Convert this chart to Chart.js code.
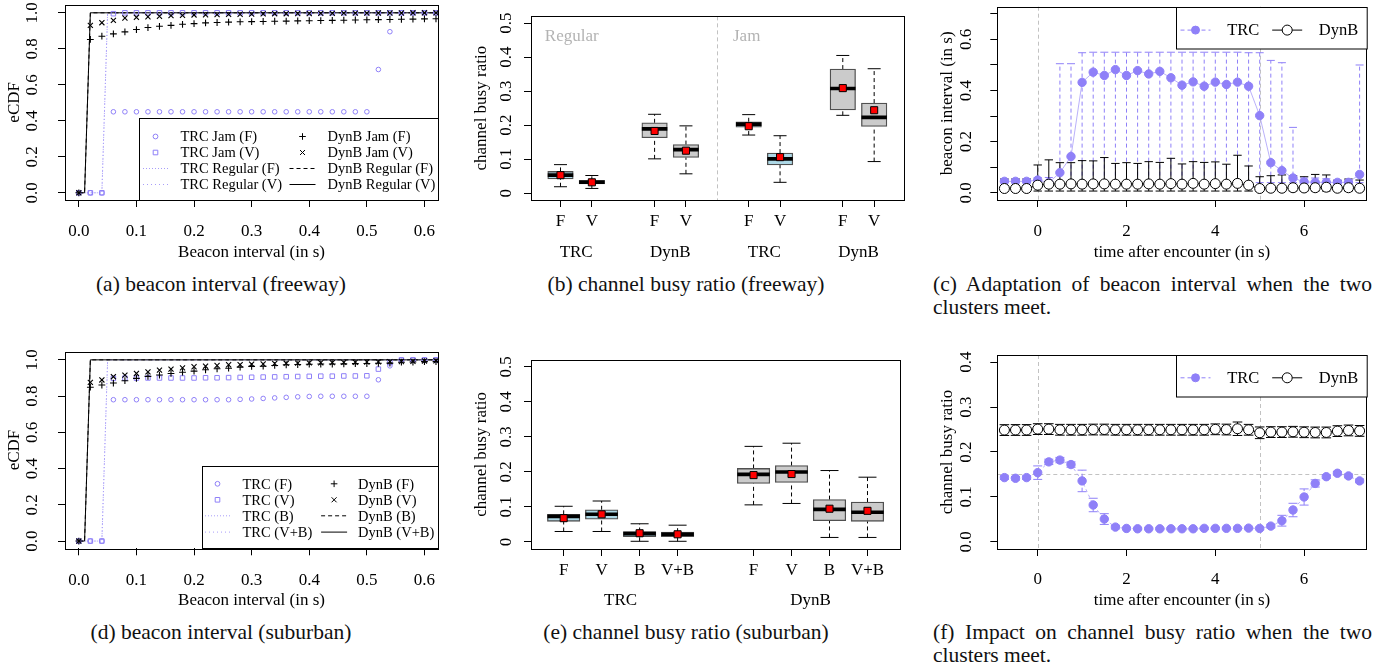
<!DOCTYPE html>
<html>
<head>
<meta charset="utf-8">
<title>beacon interval / channel busy ratio</title>
<script src="https://cdn.jsdelivr.net/npm/chart.js@4.4.1/dist/chart.umd.min.js"></script>
<style>
  html, body { margin: 0; padding: 0; background: #fff; }
  body { position: relative; width: 1400px; height: 670px; overflow: hidden; font-family: 'Liberation Serif', 'Times New Roman', serif; color: #111; }
  canvas { position: absolute; }
  .cap { position: absolute; font-size: 21.5px; line-height: 23px; white-space: nowrap; text-align: center; }
  .cap.wide { white-space: normal; text-align: justify; width: 439px; }
</style>
</head>
<body>
<canvas id="chartA" width="460" height="270" style="left:0;top:0"></canvas>
<canvas id="chartB" width="460" height="270" style="left:460px;top:0"></canvas>
<canvas id="chartC" width="480" height="270" style="left:920px;top:0"></canvas>
<canvas id="chartD" width="460" height="278" style="left:0;top:340px"></canvas>
<canvas id="chartE" width="460" height="278" style="left:460px;top:340px"></canvas>
<canvas id="chartF" width="480" height="278" style="left:920px;top:340px"></canvas>

<div class="cap" style="left:0;width:442px;top:273px">(a) beacon interval (freeway)</div>
<div class="cap" style="left:486px;width:400px;top:273px">(b) channel busy ratio (freeway)</div>
<div class="cap wide" style="left:933px;top:273px">(c) Adaptation of beacon interval when the two clusters meet.</div>
<div class="cap" style="left:0;width:442px;top:621px">(d) beacon interval (suburban)</div>
<div class="cap" style="left:486px;width:400px;top:621px">(e) channel busy ratio (suburban)</div>
<div class="cap wide" style="left:933px;top:621px">(f) Impact on channel busy ratio when the two clusters meet.</div>

<script>
'use strict';

// ---- data: eCDF of the beacon interval ----
const ecdfX = [0, 0.02, 0.04, 0.06, 0.08, 0.10, 0.12, 0.14, 0.16, 0.18, 0.20, 0.22, 0.24, 0.26, 0.28, 0.30,
  0.32, 0.34, 0.36, 0.38, 0.40, 0.42, 0.44, 0.46, 0.48, 0.50, 0.52, 0.54, 0.56, 0.58, 0.60, 0.62];

// freeway (a)
const trcJamF = [0, 0, 0, 0.45, 0.45, 0.45, 0.45, 0.45, 0.45, 0.45, 0.45, 0.45, 0.45, 0.45, 0.45, 0.45,
  0.45, 0.45, 0.45, 0.45, 0.45, 0.45, 0.45, 0.45, 0.45, 0.45, 0.685, 0.895, 1, 1, 1, 1];
const trcJamV = [0, 0, 0, 0.995, 1, 1, 1, 1, 1, 1, 1, 1, 1, 1, 1, 1,
  1, 1, 1, 1, 1, 1, 1, 1, 1, 1, 1, 1, 1, 1, 1, 1];
const dynbJamF = [0, 0.852, 0.870, 0.883, 0.894, 0.907, 0.918, 0.925, 0.930, 0.936, 0.940, 0.944, 0.946, 0.948, 0.950, 0.951,
  0.952, 0.953, 0.954, 0.955, 0.956, 0.957, 0.958, 0.959, 0.960, 0.961, 0.962, 0.963, 0.964, 0.965, 0.966, 0.967];
const dynbJamV = [0, 0.930, 0.945, 0.958, 0.971, 0.975, 0.978, 0.981, 0.984, 0.986, 0.988, 0.989, 0.990, 0.991, 0.992, 0.993,
  0.994, 0.995, 0.995, 0.996, 0.996, 0.997, 0.997, 0.998, 0.998, 0.998, 0.999, 0.999, 0.999, 1, 1, 1];
const dynbStepX = [0, 0.01, 0.02, 0.63];
const dynbRegF = [0, 0, 1, 1];
const dynbRegV = [0, 0, 1, 1];
const trcStepX = [0, 0.04, 0.05, 0.63];
const trcRegF = [0, 0, 1, 1];
const trcRegV = [0, 0, 1, 1];

// suburban (d)
const trcSubF = [0, 0, 0, 0.78, 0.78, 0.78, 0.78, 0.78, 0.78, 0.78, 0.78, 0.78, 0.78, 0.78, 0.782, 0.784,
  0.787, 0.790, 0.793, 0.796, 0.798, 0.799, 0.799, 0.799, 0.799, 0.799, 0.89, 0.967, 1, 1, 1, 1];
const trcSubV = [0, 0, 0, 0.898, 0.899, 0.899, 0.900, 0.900, 0.900, 0.900, 0.900, 0.901, 0.901, 0.902, 0.903, 0.904,
  0.905, 0.906, 0.907, 0.908, 0.909, 0.910, 0.910, 0.911, 0.911, 0.912, 0.949, 0.985, 1, 1, 1, 1];
const dynbSubF = [0, 0.849, 0.861, 0.872, 0.885, 0.898, 0.909, 0.916, 0.925, 0.932, 0.938, 0.945, 0.951, 0.954, 0.960, 0.964,
  0.965, 0.969, 0.973, 0.974, 0.976, 0.977, 0.977, 0.978, 0.979, 0.980, 0.981, 0.982, 0.987, 0.988, 0.990, 0.990];
const dynbSubV = [0, 0.876, 0.889, 0.907, 0.916, 0.925, 0.934, 0.943, 0.949, 0.956, 0.962, 0.965, 0.969, 0.973, 0.974, 0.976,
  0.977, 0.980, 0.981, 0.982, 0.983, 0.984, 0.985, 0.986, 0.987, 0.988, 0.989, 0.990, 0.991, 0.992, 0.994, 0.995];
const trcSubB = [0, 0, 1, 1];
const trcSubVB = [0, 0, 1, 1];
const dynbSubB = [0, 0, 1, 1];
const dynbSubVB = [0, 0, 1, 1];

// ---- data: channel busy ratio boxplots ----
// (b) freeway: TRC reg F,V | DynB reg F,V | TRC jam F,V | DynB jam F,V
const fwyPos = [1, 2, 4, 5, 7, 8, 10, 11];
const fwyLabels = ['F', 'V', 'F', 'V', 'F', 'V', 'F', 'V'];
const fwyGroupPos = [1.5, 4.5, 7.5, 10.5];
const fwyGroups = ['TRC', 'DynB', 'TRC', 'DynB'];
const fwyLo = [0.019, 0.014, 0.101, 0.057, 0.171, 0.032, 0.229, 0.093];
const fwyQ1 = [0.042, 0.027, 0.163, 0.105, 0.194, 0.083, 0.245, 0.196];
const fwyMed = [0.053, 0.032, 0.189, 0.128, 0.203, 0.101, 0.308, 0.223];
const fwyQ3 = [0.064, 0.038, 0.207, 0.143, 0.210, 0.118, 0.365, 0.265];
const fwyHi = [0.084, 0.052, 0.232, 0.198, 0.231, 0.169, 0.405, 0.366];
const fwyMean = [0.053, 0.032, 0.183, 0.125, 0.197, 0.106, 0.309, 0.244];
const fwyKind = ['TRC', 'TRC', 'DynB', 'DynB', 'TRC', 'TRC', 'DynB', 'DynB'];

// (e) suburban
const subPos = [1, 2, 3, 4, 6, 7, 8, 9];
const subLabels = ['F', 'V', 'B', 'V+B', 'F', 'V', 'B', 'V+B'];
const subGroupPos = [2.5, 7.5];
const subGroups = ['TRC', 'DynB'];
const subLo = [0.030, 0.030, 0.002, 0.002, 0.106, 0.110, 0.013, 0.013];
const subQ1 = [0.059, 0.065, 0.015, 0.015, 0.167, 0.170, 0.061, 0.059];
const subMed = [0.073, 0.079, 0.024, 0.022, 0.193, 0.200, 0.093, 0.085];
const subQ3 = [0.079, 0.092, 0.030, 0.028, 0.210, 0.218, 0.121, 0.114];
const subHi = [0.102, 0.117, 0.052, 0.048, 0.273, 0.282, 0.204, 0.185];
const subMean = [0.068, 0.079, 0.025, 0.022, 0.191, 0.194, 0.095, 0.089];
const subKind = ['TRC', 'TRC', 'TRC', 'TRC', 'DynB', 'DynB', 'DynB', 'DynB'];

// ---- data: time after encounter ----
const timeX = [-0.75, -0.5, -0.25, 0, 0.25, 0.5, 0.75, 1, 1.25, 1.5, 1.75, 2, 2.25, 2.5, 2.75, 3, 3.25,
  3.5, 3.75, 4, 4.25, 4.5, 4.75, 5, 5.25, 5.5, 5.75, 6, 6.25, 6.5, 6.75, 7, 7.25];

// (c) beacon interval
const trcBI = [0.045, 0.045, 0.045, 0.05, 0.04, 0.079, 0.142, 0.432, 0.472, 0.459, 0.482, 0.459, 0.478, 0.465, 0.475, 0.45, 0.421,
  0.434, 0.417, 0.433, 0.424, 0.433, 0.417, 0.302, 0.118, 0.087, 0.058, 0.043, 0.041, 0.041, 0.041, 0.041, 0.072];
const trcBIHi = [0.054, 0.054, 0.054, 0.06, 0.06, 0.505, 0.505, 0.548, 0.55, 0.55, 0.55, 0.55, 0.55, 0.55, 0.55, 0.55, 0.55,
  0.55, 0.55, 0.55, 0.55, 0.55, 0.548, 0.548, 0.518, 0.509, 0.256, 0.058, 0.058, 0.055, 0.05, 0.05, 0.5];
const trcBILo = [0.04, 0.04, 0.04, 0.04, 0.04, 0.04, 0.04, 0.04, 0.04, 0.04, 0.04, 0.04, 0.04, 0.04, 0.04, 0.04, 0.04,
  0.04, 0.04, 0.04, 0.04, 0.04, 0.04, 0.04, 0.04, 0.04, 0.04, 0.04, 0.04, 0.04, 0.04, 0.04, 0.04];
const dynbBI = [0.017, 0.017, 0.017, 0.03, 0.034, 0.034, 0.035, 0.034, 0.035, 0.035, 0.034, 0.034, 0.034, 0.035, 0.034, 0.036, 0.034,
  0.037, 0.034, 0.036, 0.034, 0.037, 0.03, 0.017, 0.018, 0.018, 0.02, 0.019, 0.02, 0.022, 0.018, 0.02, 0.018];
const dynbBIHi = [0.054, 0.054, 0.054, 0.109, 0.129, 0.118, 0.118, 0.126, 0.125, 0.138, 0.115, 0.118, 0.115, 0.122, 0.119, 0.135, 0.113,
  0.122, 0.119, 0.121, 0.112, 0.147, 0.105, 0.063, 0.067, 0.07, 0.067, 0.063, 0.072, 0.07, 0.049, 0.054, 0.05];
const dynbBILo = [0.007, 0.007, 0.007, 0.007, 0.007, 0.007, 0.007, 0.007, 0.007, 0.007, 0.007, 0.007, 0.007, 0.007, 0.007, 0.007, 0.007,
  0.007, 0.007, 0.007, 0.007, 0.007, 0.007, 0.007, 0.007, 0.007, 0.007, 0.007, 0.007, 0.007, 0.007, 0.007, 0.007];

// (f) channel busy ratio
const trcCBR = [0.143, 0.1415, 0.143, 0.154, 0.178, 0.182, 0.172, 0.1356, 0.082, 0.0507, 0.0328, 0.0298, 0.029, 0.029, 0.029, 0.029, 0.029,
  0.029, 0.03, 0.03, 0.03, 0.03, 0.0305, 0.0298, 0.035, 0.047, 0.0708, 0.0998, 0.13, 0.145, 0.1527, 0.1467, 0.1356];
const trcCBRErr = [0.004, 0.004, 0.004, 0.015, 0.006, 0.006, 0.006, 0.024, 0.015, 0.012, 0.004, 0.002, 0.002, 0.002, 0.002, 0.002, 0.002,
  0.002, 0.002, 0.002, 0.002, 0.002, 0.002, 0.003, 0.004, 0.012, 0.015, 0.018, 0.008, 0.004, 0.004, 0.004, 0.004];
const dynbCBR = [0.2488, 0.249, 0.249, 0.251, 0.251, 0.2495, 0.2495, 0.2495, 0.25, 0.25, 0.2495, 0.2495, 0.2495, 0.2495, 0.2495, 0.2495, 0.2495,
  0.2495, 0.2495, 0.2505, 0.25, 0.2518, 0.2495, 0.2428, 0.2443, 0.2443, 0.245, 0.244, 0.2435, 0.2435, 0.2465, 0.248, 0.247];
const dynbCBRErr = [0.012, 0.012, 0.012, 0.012, 0.012, 0.012, 0.012, 0.012, 0.012, 0.012, 0.012, 0.012, 0.012, 0.012, 0.012, 0.012, 0.012,
  0.012, 0.012, 0.012, 0.012, 0.015, 0.012, 0.013, 0.012, 0.012, 0.012, 0.012, 0.012, 0.012, 0.012, 0.012, 0.012];

// ---- tick labels ----
const ecdfTicks = [0, 0.2, 0.4, 0.6, 0.8, 1.0];
const ecdfTickLabels = ['0.0', '0.2', '0.4', '0.6', '0.8', '1.0'];
const intervalTicks = [0, 0.1, 0.2, 0.3, 0.4, 0.5, 0.6];
const intervalTickLabels = ['0.0', '0.1', '0.2', '0.3', '0.4', '0.5', '0.6'];
const cbrTicks = [0, 0.1, 0.2, 0.3, 0.4, 0.5];
const cbrTickLabels = ['0', '0.1', '0.2', '0.3', '0.4', '0.5'];
const timeTicks = [0, 2, 4, 6];
const timeTickLabels = ['0', '2', '4', '6'];
const beaconTicks = [0, 0.1, 0.2, 0.3, 0.4, 0.5, 0.6, 0.7];
const beaconTickLabels = ['0.0', '', '0.2', '', '0.4', '', '0.6', ''];
const impactTicks = [0, 0.1, 0.2, 0.3, 0.4];
const impactTickLabels = ['0.0', '0.1', '0.2', '0.3', '0.4'];

// ---- styling ----
const serif = "'Liberation Serif', 'Times New Roman', serif";
const LAV = '#8f80f8';
const LAV_LINE = '#a89df9';
const LIGHTBLUE = '#add8e6';
const BOXGRAY = '#cbcbcb';
Chart.defaults.font.family = serif;
Chart.defaults.color = '#000';

const pts = (xs, ys) => xs.map((x, i) => ({ x, y: ys[i] }));

function yAxis(o) {
  return {
    type: 'linear', position: 'left', min: o.min, max: o.max,
    afterBuildTicks: s => { s.ticks = o.ticks.map(v => ({ value: v })); },
    afterFit: s => { s.width = o.width; s.paddingTop = 0; s.paddingBottom = 0; },
    ticks: {
      autoSkip: false, minRotation: 90, maxRotation: 90, crossAlign: 'center', padding: o.pad,
      color: '#000', font: { family: serif, size: 17 }, callback: (v, i) => o.labels[i]
    },
    grid: { drawOnChartArea: false, drawTicks: true, tickLength: 7, color: '#000', lineWidth: 1 },
    border: { display: false },
    title: { display: true, text: o.title, color: '#000', font: { family: serif, size: 17 }, padding: { top: o.tpad, bottom: 0 } }
  };
}

function xAxis(o) {
  return {
    type: 'linear', position: 'bottom', min: o.min, max: o.max, offset: false, weight: 0,
    afterBuildTicks: s => { s.ticks = o.ticks.map(v => ({ value: v })); },
    afterFit: s => { s.height = o.height; s.paddingLeft = 0; s.paddingRight = 0; },
    ticks: {
      autoSkip: false, maxRotation: 0, minRotation: 0, padding: o.pad,
      color: '#000', font: { family: serif, size: 17 }, callback: (v, i) => o.labels[i]
    },
    grid: { drawOnChartArea: false, drawTicks: true, tickLength: 7, color: '#000', lineWidth: 1, offset: false },
    border: { display: false },
    title: o.title
      ? { display: true, text: o.title, color: '#000', font: { family: serif, size: 17 }, padding: { top: 0, bottom: 6.8 } }
      : { display: false }
  };
}

function groupAxis(o) {
  return {
    type: 'linear', position: 'bottom', min: o.min, max: o.max, offset: false, weight: 1,
    afterBuildTicks: s => { s.ticks = o.ticks.map(v => ({ value: v })); },
    afterFit: s => { s.height = o.height; s.paddingLeft = 0; s.paddingRight = 0; },
    ticks: { autoSkip: false, maxRotation: 0, minRotation: 0, padding: o.pad, color: '#000',
      font: { family: serif, size: 17 }, callback: (v, i) => o.labels[i] },
    grid: { display: false, drawTicks: false, drawOnChartArea: false },
    border: { display: false }
  };
}

const framePlugin = {
  id: 'frame',
  afterDatasetsDraw(ch) {
    const a = ch.chartArea, c = ch.ctx;
    c.save();
    c.strokeStyle = '#000'; c.lineWidth = 1;
    c.strokeRect(Math.round(a.left) + 0.5, Math.round(a.top) + 0.5,
      Math.round(a.right - a.left), Math.round(a.bottom - a.top));
    c.restore();
  }
};

function refLines(vals, hvals) {
  return {
    id: 'refLines',
    beforeDatasetsDraw(ch) {
      const a = ch.chartArea, c = ch.ctx, sx = ch.scales.x, sy = ch.scales.y;
      c.save();
      c.strokeStyle = '#c2c2c2'; c.lineWidth = 1; c.setLineDash([4, 3]);
      vals.forEach(v => {
        const px = Math.round(sx.getPixelForValue(v)) + 0.5;
        c.beginPath(); c.moveTo(px, a.top); c.lineTo(px, a.bottom); c.stroke();
      });
      hvals.forEach(v => {
        const py = Math.round(sy.getPixelForValue(v)) + 0.5;
        c.beginPath(); c.moveTo(a.left, py); c.lineTo(a.right, py); c.stroke();
      });
      c.restore();
    }
  };
}

function drawSymbol(c, kind, x, y, r, color, fill) {
  c.save();
  c.strokeStyle = color; c.fillStyle = fill || color; c.lineWidth = 1;
  c.beginPath();
  if (kind === 'circle') {
    c.arc(x, y, r, 0, Math.PI * 2);
    if (fill) c.fill();
    c.stroke();
  } else if (kind === 'square') {
    c.rect(x - r, y - r, 2 * r, 2 * r); c.stroke();
  } else if (kind === 'plus') {
    c.moveTo(x - r, y); c.lineTo(x + r, y); c.moveTo(x, y - r); c.lineTo(x, y + r); c.stroke();
  } else if (kind === 'x') {
    c.moveTo(x - r, y - r); c.lineTo(x + r, y + r); c.moveTo(x - r, y + r); c.lineTo(x + r, y - r); c.stroke();
  }
  c.restore();
}

// R-style legend box, drawn in the corner of the plot region
function legendPlugin(L) {
  return {
    id: 'rLegend',
    afterDatasetsDraw(ch) {
      const a = ch.chartArea, c = ch.ctx;
      const x0 = Math.round(a.right - L.w) + 0.5;
      const y0 = Math.round(L.corner === 'bottom' ? a.bottom - L.h : a.top) + 0.5;
      c.save();
      c.fillStyle = '#fff'; c.fillRect(x0, y0, L.w, L.h);
      c.strokeStyle = '#000'; c.lineWidth = 1; c.strokeRect(x0, y0, L.w, L.h);
      c.font = L.font + 'px ' + serif; c.textBaseline = 'middle'; c.fillStyle = '#000';
      L.items.forEach(it => {
        const sx = x0 + it.sx, sy = y0 + it.y;
        if (it.line) {
          c.save();
          c.strokeStyle = it.line.color; c.lineWidth = it.line.width || 1; c.setLineDash(it.line.dash || []);
          c.beginPath(); c.moveTo(sx - it.line.len / 2, sy); c.lineTo(sx + it.line.len / 2, sy); c.stroke();
          c.restore();
        }
        if (it.sym) drawSymbol(c, it.sym.kind, sx, sy, it.sym.r, it.sym.color, it.sym.fill);
        c.fillStyle = '#000';
        c.fillText(it.label, x0 + it.tx, sy + 1);
      });
      c.restore();
    }
  };
}

function textPlugin(notes) {
  return {
    id: 'notes',
    afterDatasetsDraw(ch) {
      const c = ch.ctx, sx = ch.scales.x, sy = ch.scales.y;
      c.save();
      c.font = '17px ' + serif; c.fillStyle = '#b3b3b3'; c.textBaseline = 'middle'; c.textAlign = 'left';
      notes.forEach(n => c.fillText(n.text, sx.getPixelForValue(n.x), sy.getPixelForValue(n.y)));
      c.restore();
    }
  };
}

const lineDs = (data, color, dash, width, order) => ({
  data, showLine: true, borderColor: color, borderWidth: width, borderDash: dash,
  pointRadius: 0, pointHoverRadius: 0, fill: false, order
});
const ptDs = (data, style, r, color, fill, width, order) => ({
  data, showLine: false, pointStyle: style, pointRadius: r, pointHoverRadius: r,
  borderColor: color, pointBorderColor: color, backgroundColor: fill, pointBackgroundColor: fill,
  borderWidth: width, pointBorderWidth: width, order
});

function makeChart(id, pad, datasets, scales, plugins) {
  return new Chart(document.getElementById(id), {
    type: 'scatter',
    data: { datasets },
    options: {
      responsive: false, animation: false, events: [],
      layout: { padding: pad },
      plugins: { legend: { display: false }, tooltip: { enabled: false } },
      scales
    },
    plugins
  });
}

// ---- (a) / (d): eCDF panels ----
function ecdfChart(id, top, bottomH, series, legend) {
  const datasets = [
    lineDs(pts(trcStepX, series.trcLine1), LAV_LINE, [1, 2], 1, 9),
    lineDs(pts(trcStepX, series.trcLine2), LAV_LINE, [1, 3], 1, 9),
    lineDs(pts(dynbStepX, series.dynbLine1), '#000', [4, 3], 1, 8),
    lineDs(pts(dynbStepX, series.dynbLine2), '#000', [], 1, 8),
    ptDs(pts(ecdfX, series.trcPt1), 'circle', 2.3, LAV, 'rgba(0,0,0,0)', 1, 4),
    ptDs(pts(ecdfX, series.trcPt2), 'rect', 3.2, LAV, 'rgba(0,0,0,0)', 1, 4),
    ptDs(pts(ecdfX, series.dynbPt1), 'cross', 3.4, '#000', 'rgba(0,0,0,0)', 1.1, 3),
    ptDs(pts(ecdfX, series.dynbPt2), 'crossRot', 3.6, '#000', 'rgba(0,0,0,0)', 1.1, 3)
  ];
  const scales = {
    x: xAxis({ min: -0.024, max: 0.6235, ticks: intervalTicks, labels: intervalTickLabels, height: bottomH,
      pad: 14.6, title: 'Beacon interval (in s)' }),
    y: yAxis({ min: -0.04, max: 1.045, ticks: ecdfTicks, labels: ecdfTickLabels, width: 65, pad: 14.4,
      title: 'eCDF', tpad: 4.8 })
  };
  return makeChart(id, { left: 0, right: 22, top, bottom: 0 }, datasets, scales, [framePlugin, legendPlugin(legend)]);
}

function ecdfLegend(labels, w, h, cols, rows, font) {
  const kinds = [
    { sym: { kind: 'circle', r: 2.4, color: LAV } },
    { sym: { kind: 'plus', r: 3.3, color: '#000' } },
    { sym: { kind: 'square', r: 2.3, color: LAV } },
    { sym: { kind: 'x', r: 2.5, color: '#000' } },
    { line: { color: LAV_LINE, dash: [1, 2], len: 25 } },
    { line: { color: '#000', dash: [4, 3], len: 26 } },
    { line: { color: LAV_LINE, dash: [1, 3], len: 25 } },
    { line: { color: '#000', dash: [], len: 26 } }
  ];
  return {
    corner: 'bottom', w, h, font,
    items: kinds.map((k, i) => Object.assign({
      sx: cols[i % 2].sx, tx: cols[i % 2].tx, y: rows[Math.floor(i / 2)], label: labels[i]
    }, k))
  };
}

ecdfChart('chartA', 3.3, 70,
  { trcLine1: trcRegF, trcLine2: trcRegV, dynbLine1: dynbRegF, dynbLine2: dynbRegV,
    trcPt1: trcJamF, trcPt2: trcJamV, dynbPt1: dynbJamF, dynbPt2: dynbJamV },
  ecdfLegend(['TRC Jam (F)', 'DynB Jam (F)', 'TRC Jam (V)', 'DynB Jam (V)',
    'TRC Regular (F)', 'DynB Regular (F)', 'TRC Regular (V)', 'DynB Regular (V)'],
  299, 82, [{ sx: 16, tx: 41 }, { sx: 163, tx: 188 }], [18, 34, 50, 66], 14.5));

ecdfChart('chartD', 11.7, 69.7,
  { trcLine1: trcSubB, trcLine2: trcSubVB, dynbLine1: dynbSubB, dynbLine2: dynbSubVB,
    trcPt1: trcSubF, trcPt2: trcSubV, dynbPt1: dynbSubF, dynbPt2: dynbSubV },
  ecdfLegend(['TRC (F)', 'DynB (F)', 'TRC (V)', 'DynB (V)',
    'TRC (B)', 'DynB (B)', 'TRC (V+B)', 'DynB (V+B)'],
  236, 82, [{ sx: 15, tx: 40 }, { sx: 131.6, tx: 155.6 }], [17.3, 33.3, 49.3, 65.6], 14.5));

// ---- (b) / (e): boxplots ----
function boxChart(id, top, B, xr, boxW, capR, xH, x2H, xPad, x2Pad, notes, sepLines) {
  const fills = B.kind.map(k => (k === 'TRC' ? LIGHTBLUE : BOXGRAY));
  const whisk = [];
  B.pos.forEach((x, i) => {
    whisk.push({ x, y: B.q3[i] }, { x, y: B.hi[i] }, { x, y: null },
      { x, y: B.lo[i] }, { x, y: B.q1[i] }, { x, y: null });
  });
  const datasets = [
    { type: 'bar', data: B.pos.map((x, i) => ({ x, y: [B.q1[i], B.q3[i]] })),
      backgroundColor: fills, borderColor: '#505050', borderWidth: 1.3, borderSkipped: false,
      barThickness: boxW, order: 6 },
    lineDs(whisk, '#000', [4, 3], 1, 7),
    ptDs(pts(B.pos, B.hi).concat(pts(B.pos, B.lo)), 'line', capR, '#000', '#000', 1, 5),
    ptDs(pts(B.pos, B.med), 'line', boxW / 2, '#000', '#000', 3.6, 4),
    ptDs(pts(B.pos, B.mean), 'rect', 5, '#000', '#ff0000', 1, 3)
  ];
  const scales = {
    x: xAxis({ min: xr[0], max: xr[1], ticks: B.pos, labels: B.labels, height: xH, pad: xPad }),
    x2: groupAxis({ min: xr[0], max: xr[1], ticks: B.groupPos, labels: B.groups, height: x2H, pad: x2Pad }),
    y: yAxis({ min: -0.02, max: 0.52, ticks: cbrTicks, labels: cbrTickLabels, width: 71, pad: 6.7,
      title: 'channel busy ratio', tpad: 11.5 })
  };
  const plugins = [refLines(sepLines, []), framePlugin];
  if (notes.length) plugins.push(textPlugin(notes));
  return makeChart(id, { left: 0, right: 15, top, bottom: 0 }, datasets, scales, plugins);
}

boxChart('chartB', 3, {
  pos: fwyPos, labels: fwyLabels, groupPos: fwyGroupPos, groups: fwyGroups, kind: fwyKind,
  lo: fwyLo, q1: fwyQ1, med: fwyMed, q3: fwyQ3, hi: fwyHi, mean: fwyMean
}, [0.06, 11.94], 25.5, 6.5, 34, 36, 4.8, 8.8,
[{ text: 'Regular', x: 0.5, y: 0.46 }, { text: 'Jam', x: 6.5, y: 0.46 }], [6]);

boxChart('chartE', 11.7, {
  pos: subPos, labels: subLabels, groupPos: subGroupPos, groups: subGroups, kind: subKind,
  lo: subLo, q1: subQ1, med: subMed, q3: subQ3, hi: subHi, mean: subMean
}, [0.14, 9.86], 32.5, 9, 34, 35, 4.8, 7.8, [], []);

// ---- (c) / (f): time after encounter ----
function errSegs(xs, lo, hi) {
  const d = [];
  xs.forEach((x, i) => d.push({ x, y: lo[i] }, { x, y: hi[i] }, { x, y: null }));
  return d;
}

function timeChart(id, top, xH, xPad, yCfg, S, legendTop) {
  const datasets = [
    lineDs(errSegs(timeX, S.trcLo, S.trcHi), LAV, [4, 3], 1, 10),
    ptDs(pts(timeX, S.trcHi).concat(pts(timeX, S.trcLo)), 'line', S.trcCap, LAV, LAV, 1, 9),
    lineDs(errSegs(timeX, S.dynbLo, S.dynbHi), '#000', [], 1, 8),
    ptDs(pts(timeX, S.dynbHi).concat(pts(timeX, S.dynbLo)), 'line', S.dynbCap, '#000', '#000', 1, 7),
    Object.assign(ptDs(pts(timeX, S.trc), 'circle', 4.2, LAV, LAV, 1, 6),
      { showLine: true, borderDash: S.trcDash, borderWidth: 0.8, borderColor: LAV_LINE }),
    Object.assign(ptDs(pts(timeX, S.dynb), 'circle', 5, '#000', '#fff', 1, 5), { showLine: true })
  ];
  const scales = {
    x: xAxis({ min: -0.91, max: 7.41, ticks: timeTicks, labels: timeTickLabels, height: xH, pad: xPad,
      title: 'time after encounter (in s)' }),
    y: yAxis(yCfg)
  };
  const legend = {
    corner: 'top', w: 190.7, h: 41.5, font: 16.5,
    items: [
      { sx: 19, tx: 50.7, y: legendTop, label: 'TRC',
        line: { color: LAV, dash: [4, 3], len: 30 }, sym: { kind: 'circle', r: 4, color: LAV, fill: LAV } },
      { sx: 110.7, tx: 142.3, y: legendTop, label: 'DynB',
        line: { color: '#000', dash: [], len: 30 }, sym: { kind: 'circle', r: 5, color: '#000', fill: '#fff' } }
    ]
  };
  return makeChart(id, { left: 0, right: 33.3, top, bottom: 0 }, datasets, scales,
    [refLines(S.vlines, S.hlines), framePlugin, legendPlugin(legend)]);
}

timeChart('chartC', 6.7, 70, 14.8,
  { min: -0.028, max: 0.728, ticks: beaconTicks, labels: beaconTickLabels, width: 77.3, pad: 13,
    title: 'beacon interval (in s)', tpad: 17.8 },
  { trc: trcBI, trcLo: trcBILo, trcHi: trcBIHi, dynb: dynbBI, dynbLo: dynbBILo, dynbHi: dynbBIHi,
    trcCap: 4, dynbCap: 4.2, trcDash: [], vlines: [0, 5], hlines: [] }, 22.6);

timeChart('chartF', 15, 69, 13.8,
  { min: -0.016, max: 0.416, ticks: impactTicks, labels: impactTickLabels, width: 77.3, pad: 13,
    title: 'channel busy ratio', tpad: 17.8 },
  { trc: trcCBR, trcLo: trcCBR.map((v, i) => v - trcCBRErr[i]), trcHi: trcCBR.map((v, i) => v + trcCBRErr[i]),
    dynb: dynbCBR, dynbLo: dynbCBR.map((v, i) => v - dynbCBRErr[i]), dynbHi: dynbCBR.map((v, i) => v + dynbCBRErr[i]),
    trcCap: 4.5, dynbCap: 4.8, trcDash: [3, 3], vlines: [0, 5], hlines: [0.15] }, 22.3);
</script>
</body>
</html>
